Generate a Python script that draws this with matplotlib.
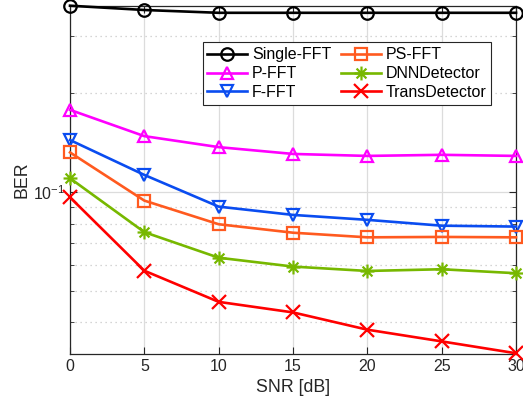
import matplotlib
matplotlib.use("Agg")
import matplotlib.pyplot as plt
from matplotlib.path import Path
from matplotlib.ticker import FixedLocator, NullFormatter, LogLocator

plt.rcParams['font.family'] = ['Liberation Sans', 'DejaVu Sans']
plt.rcParams['mathtext.fontset'] = 'custom'
plt.rcParams['mathtext.rm'] = 'Liberation Sans'

snr = [0, 5, 10, 15, 20, 25, 30]
single_fft = [0.370, 0.359, 0.352, 0.352, 0.352, 0.352, 0.352]
p_fft = [0.178, 0.148, 0.137, 0.1306, 0.1288, 0.1298, 0.1288]
f_fft = [0.144, 0.1127, 0.0902, 0.0851, 0.0822, 0.0789, 0.0784]
ps_fft = [0.132, 0.0941, 0.0797, 0.0751, 0.0727, 0.0729, 0.0727]
dnn = [0.1101, 0.0754, 0.0630, 0.0592, 0.0574, 0.0581, 0.0565]
trans = [0.0963, 0.0575, 0.0462, 0.0429, 0.0380, 0.0350, 0.0322]
x_ticks = [0, 5, 10, 15, 20, 25, 30]

# eight-armed asterisk marker
d = 0.7071
asterisk = Path(
    [(-1, 0), (1, 0), (0, -1), (0, 1), (-d, -d), (d, d), (-d, d), (d, -d)],
    [Path.MOVETO, Path.LINETO] * 4,
)

series = [
    ("Single-FFT", single_fft, "#000000", "o"),
    ("P-FFT", p_fft, "#FF00FF", "^"),
    ("F-FFT", f_fft, "#0A4CF0", "v"),
    ("PS-FFT", ps_fft, "#FF5A1F", "s"),
    ("DNNDetector", dnn, "#77B800", asterisk),
    ("TransDetector", trans, "#FF0000", "x"),
]

fig = plt.figure(figsize=(5.23, 4.13), dpi=100)
ax = fig.add_axes([70 / 523, 1 - 353.7 / 413, 446 / 523, 348 / 413])

for name, vals, col, mk in series:
    ms = 9
    if mk is asterisk:
        ms = 10
    elif mk == "x":
        ms = 9.5
    ax.plot(snr, vals, color=col, marker=mk, markersize=ms, markerfacecolor='none',
            markeredgecolor=col, markeredgewidth=1.6, linewidth=1.9, label=name,
            clip_on=False, zorder=3)

ax.set_yscale('log')
ax.set_xlim(0, 30)
ax.set_ylim(0.0321, 0.37)
ax.set_xticks(x_ticks)
ax.set_xticklabels([str(t) for t in x_ticks])
ax.yaxis.set_major_locator(FixedLocator([0.1]))
ax.yaxis.set_major_formatter(matplotlib.ticker.FixedFormatter([r'$10^{\mathregular{-1}}$']))
ax.yaxis.set_minor_locator(LogLocator(base=10, subs=range(2, 10)))
ax.yaxis.set_minor_formatter(NullFormatter())

ax.grid(True, which='major', color='#dcdcdc', linestyle='-', linewidth=0.9)
ax.grid(True, which='minor', axis='y', color='#c8c8c8', linestyle=(0, (1, 3)), linewidth=0.9)
ax.set_axisbelow(True)

ax.tick_params(which='both', direction='in', top=True, right=True,
               colors='#262626', labelsize=11.5)
ax.tick_params(which='major', length=5)
ax.tick_params(which='minor', length=3)
for sp in ax.spines.values():
    sp.set_color('#262626')
    sp.set_linewidth(0.9)

ax.set_xlabel('SNR [dB]', fontsize=12.8, color='#262626', labelpad=4)
ax.set_ylabel('BER', fontsize=12.8, color='#262626', labelpad=2)

leg = ax.legend(ncol=2, loc='upper left', bbox_to_anchor=(0.2975, 0.8948),
                borderaxespad=0, fontsize=11.5, frameon=True, fancybox=False,
                edgecolor='#262626', framealpha=1, handlelength=2.5,
                handletextpad=0.3, columnspacing=0.6, labelspacing=0.25,
                borderpad=0.3)
leg.get_frame().set_linewidth(0.8)

fig.savefig('out.png', dpi=100)
